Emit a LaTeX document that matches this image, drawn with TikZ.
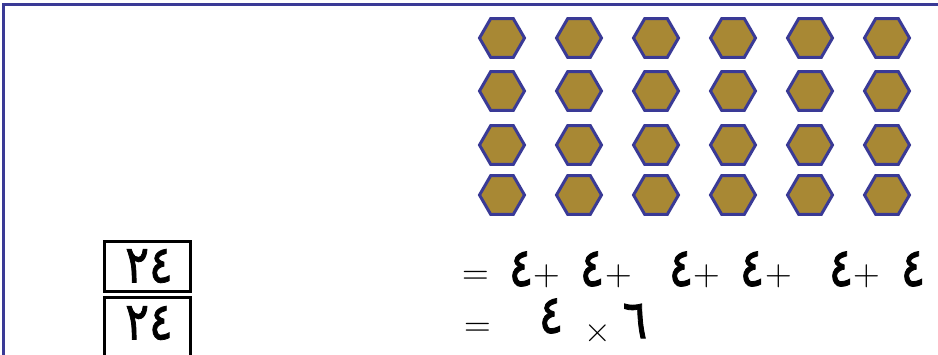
\documentclass[tikz,border=0pt]{standalone}
\usepackage{fontspec}
\usepackage{tikz}
\usetikzlibrary{shapes.geometric, positioning}
\newfontfamily\arabicfont[Script=Arabic, FakeStretch=0.85, FakeBold=1.5]{DejaVu Sans}
\definecolor{hexgold}{RGB}{168,136,52}
\definecolor{hexblue}{RGB}{58,58,150}

\begin{document}
\begin{tikzpicture}[x=1pt, y=-1pt,
    hexa/.style={regular polygon, regular polygon sides=6, draw=hexblue, fill=hexgold,
                 line width=3pt, minimum size=45pt, inner sep=0pt},
    digit/.style={font=\arabicfont\fontsize{54}{56}\selectfont, inner sep=0pt},
    boxdigit/.style={font=\arabicfont\fontsize{52}{54}\selectfont, inner sep=0pt},
    op/.style={font=\fontsize{37}{40}\selectfont, inner sep=0pt},
    numbox/.style={draw, line width=3pt, minimum width=86pt, minimum height=50pt, inner sep=0pt}]
    \useasboundingbox (0,0) rectangle (938,355);
    % frame
    \draw[hexblue, line width=3pt] (3.5,360) -- (3.5,4.5) -- (940,4.5);

    % array of hexagons
    \foreach \r/\y in {1/38, 2/91, 3/145, 4/195}
        \foreach \c in {0,...,5}
            \node[hexa] (h-\r-\c) at (502+77*\c, \y) {};

    % boxes
    \node[numbox] (box1) at (147.5,266.5) {};
    \node[boxdigit] (n1) at (149,266) {٢٤};
    \node[numbox, minimum height=62pt] (box2) at (147.5,329) {};
    \node[boxdigit] (n2) at (149,323) {٢٤};

    % repeated addition
    \node[op] (eq1) at (476,278) {=};
    \node[digit] (a1) at (521,269) {٤};
    \node[op] (p1) at (547,276) {+};
    \node[digit] (a2) at (592,269) {٤};
    \node[op] (p2) at (619,276) {+};
    \node[digit] (a3) at (681,269) {٤};
    \node[op] (p3) at (707,276) {+};
    \node[digit] (a4) at (752,269) {٤};
    \node[op] (p4) at (779,276) {+};
    \node[digit] (a5) at (841,269) {٤};
    \node[op] (p5) at (867,276) {+};
    \node[digit] (a6) at (913,269) {٤};

    % multiplication
    \node[op] (eq2) at (478,330) {=};
    \node[digit] (m1) at (551,316) {٤};
    \node[op] (x1) at (598,334) {×};
    \node[digit] (m2) at (635,321) {٦};
\end{tikzpicture}
\end{document}
